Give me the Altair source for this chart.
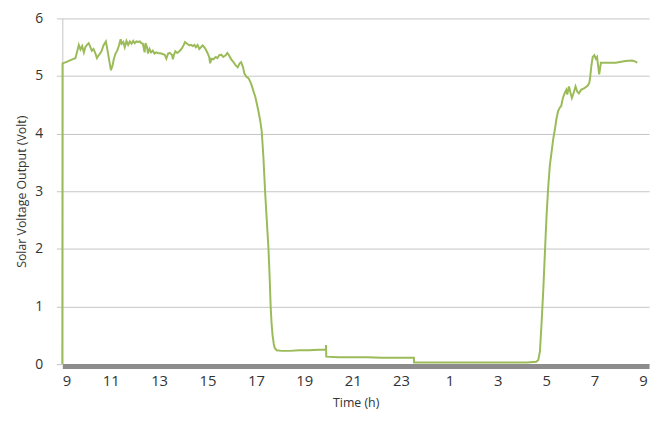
import altair as alt
import pandas as pd

# Time in hours (9 = 9:00 on day 1, 33 = 9:00 next day)
hours = [
    9.00, 9.01, 9.20, 9.41, 9.54, 9.64, 9.68, 9.75, 9.82, 9.89, 9.95,
    10.02, 10.09, 10.16, 10.22, 10.29, 10.36, 10.43, 10.50, 10.56, 10.63,
    10.70, 10.80, 10.87, 10.95, 11.01, 11.08, 11.13, 11.20, 11.27, 11.34,
    11.41, 11.45, 11.52, 11.58, 11.65, 11.72, 11.79, 11.86, 11.93, 11.99,
    12.06, 12.13, 12.20, 12.27, 12.33, 12.40, 12.44, 12.50, 12.54, 12.60,
    12.67, 12.74, 12.81, 12.88, 12.95, 13.09, 13.23, 13.30, 13.37, 13.44,
    13.53, 13.57, 13.61, 13.67, 13.75, 13.84, 13.94, 14.02, 14.07, 14.16,
    14.25, 14.32, 14.39, 14.46, 14.52, 14.59, 14.66, 14.73, 14.80, 14.87,
    14.93, 15.00, 15.07, 15.11, 15.16, 15.24, 15.34, 15.41, 15.48, 15.57,
    15.65, 15.75, 15.82, 15.89, 15.98, 16.06, 16.16, 16.25, 16.33, 16.39,
    16.47, 16.52, 16.60, 16.70, 16.77, 16.84, 16.91, 16.97, 17.04, 17.11,
    17.18, 17.24, 17.31, 17.38, 17.45, 17.52, 17.57, 17.61, 17.65, 17.69,
    17.74, 17.78, 17.86, 18.06, 18.40, 18.80, 19.20, 19.60, 19.89, 19.90,
    19.91, 20.40, 21.00, 21.60, 22.20, 22.80, 23.53, 23.54, 24.50, 25.50,
    26.50, 27.50, 28.20, 28.59, 28.67, 28.74, 28.81, 28.88, 28.95, 29.01,
    29.08, 29.15, 29.22, 29.29, 29.36, 29.42, 29.49, 29.56, 29.62, 29.69,
    29.76, 29.83, 29.87, 29.94, 29.99, 30.06, 30.13, 30.21, 30.28, 30.35,
    30.44, 30.58, 30.71, 30.78, 30.82, 30.86, 30.92, 30.99, 31.05, 31.10,
    31.19, 31.26, 31.53, 31.87, 32.28, 32.55, 32.69, 32.76,
]

# Solar voltage output (Volt)
volts = [
    0.00, 5.22, 5.25, 5.29, 5.31, 5.47, 5.54, 5.46, 5.52, 5.41, 5.50,
    5.54, 5.57, 5.50, 5.44, 5.47, 5.40, 5.31, 5.36, 5.39, 5.44,
    5.53, 5.60, 5.44, 5.24, 5.10, 5.19, 5.30, 5.39, 5.44, 5.53,
    5.64, 5.56, 5.59, 5.50, 5.61, 5.54, 5.60, 5.56, 5.61, 5.57,
    5.60, 5.59, 5.60, 5.57, 5.56, 5.41, 5.57, 5.50, 5.39, 5.47,
    5.41, 5.44, 5.39, 5.41, 5.40, 5.39, 5.37, 5.30, 5.39, 5.40,
    5.37, 5.29, 5.36, 5.43, 5.40, 5.43, 5.48, 5.54, 5.59, 5.56,
    5.53, 5.54, 5.52, 5.54, 5.50, 5.54, 5.47, 5.50, 5.53, 5.50,
    5.46, 5.40, 5.33, 5.22, 5.30, 5.29, 5.33, 5.31, 5.36, 5.37,
    5.33, 5.36, 5.40, 5.36, 5.29, 5.25, 5.19, 5.15, 5.22, 5.24,
    5.15, 5.05, 4.99, 4.96, 4.90, 4.82, 4.72, 4.65, 4.52, 4.38,
    4.22, 4.05, 3.60, 3.00, 2.50, 2.00, 1.50, 1.00, 0.70, 0.50,
    0.35, 0.28, 0.24, 0.23, 0.23, 0.24, 0.24, 0.25, 0.25, 0.33,
    0.13, 0.12, 0.12, 0.12, 0.11, 0.11, 0.11, 0.03, 0.03, 0.03,
    0.03, 0.03, 0.03, 0.04, 0.07, 0.22, 0.73, 1.30, 1.98, 2.54,
    3.06, 3.45, 3.68, 3.91, 4.08, 4.25, 4.39, 4.45, 4.48, 4.62,
    4.70, 4.76, 4.68, 4.82, 4.73, 4.62, 4.70, 4.82, 4.73, 4.70,
    4.76, 4.79, 4.83, 4.88, 4.99, 5.16, 5.33, 5.36, 5.30, 5.33,
    5.03, 5.23, 5.23, 5.23, 5.26, 5.27, 5.25, 5.23,
]

x_ticks = [9, 11, 13, 15, 17, 19, 21, 23, 25, 27, 29, 31, 33]
y_ticks = [0, 1, 2, 3, 4, 5, 6]

df = pd.DataFrame({"i": list(range(len(hours))), "h": hours, "v": volts})

font = "Open Sans"

chart = (
    alt.Chart(df)
    .mark_line(color="#9BBB59", strokeWidth=2)
    .encode(
        x=alt.X(
            "h:Q",
            scale=alt.Scale(domain=[9, 33.25], nice=False, zero=False),
            axis=alt.Axis(
                values=x_ticks,
                labelExpr="datum.value % 24",
                title="Time (h)",
                grid=False,
                ticks=False,
                domainColor="#8C8C8C",
                domainWidth=5,
                offset=2,
                labelPadding=8,
                labelFontSize=15,
                labelColor="#333333",
                labelFont=font,
                titleFont=font,
                titleFontSize=12.5,
                titleFontWeight="normal",
                titleColor="#333333",
                titlePadding=8,
            ),
        ),
        y=alt.Y(
            "v:Q",
            scale=alt.Scale(domain=[0, 6], nice=False),
            axis=alt.Axis(
                values=y_ticks,
                title="Solar Voltage Output (Volt)",
                grid=True,
                gridColor="#C4C4C4",
                gridWidth=1,
                domainColor="#C4C4C4",
                domainWidth=1,
                tickColor="#C4C4C4",
                tickSize=6,
                labelPadding=14,
                labelFontSize=14,
                labelColor="#333333",
                labelFont=font,
                titleFont=font,
                titleFontSize=12.5,
                titleFontWeight="normal",
                titleColor="#333333",
                titlePadding=6,
            ),
        ),
        order="i:Q",
    )
    .properties(
        width=594,
        height=350,
        autosize=alt.AutoSizeParams(type="none"),
        padding={"left": 55, "top": 8, "right": 4, "bottom": 51},
    )
    .configure_view(stroke=None)
)

chart.save("out.html", embed_options={"renderer": "svg", "actions": False})
